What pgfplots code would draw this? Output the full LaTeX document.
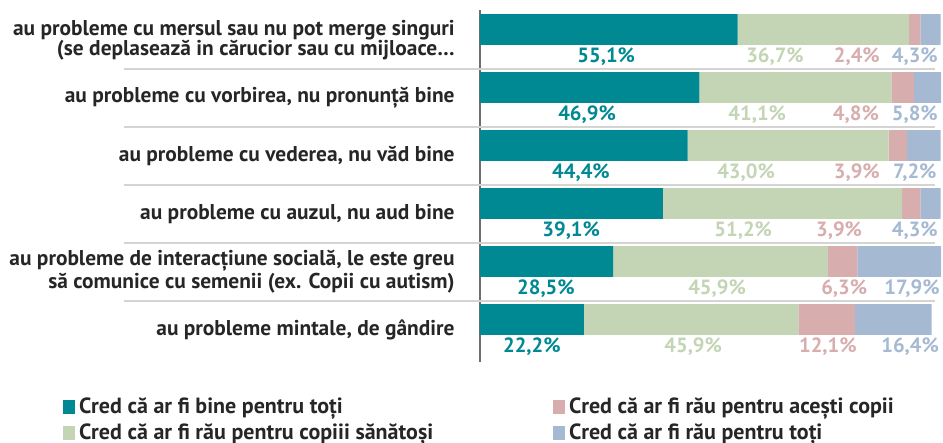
\documentclass[border=0pt]{standalone}
\usepackage{fontspec}
\setmainfont{PT Sans}
\usepackage{pgfplots}
\pgfplotsset{compat=1.18}
\usepackage{pgfplotstable}

\definecolor{cteal}{HTML}{008893}
\definecolor{cgreen}{HTML}{C3D5B4}
\definecolor{cpink}{HTML}{D8ADAE}
\definecolor{cblue}{HTML}{A6B9D3}
\definecolor{labgray}{HTML}{262626}
\definecolor{axisgray}{HTML}{6E6E6E}
\definecolor{sepgray}{HTML}{D4D4D4}

\pgfplotsset{legsq/.style={legend image code/.code={\fill[##1] (0pt,-3.5pt) rectangle (6pt,3.5pt);}}}

% shares per row (0 = top row)
\pgfplotstableread{
y a b c d
0 55.1 36.7 2.4 4.3
1 46.9 41.1 4.8 5.8
2 44.4 43.0 3.9 7.2
3 39.1 51.2 3.9 4.3
4 28.5 45.9 6.3 17.9
5 22.2 45.9 12.1 16.4
}\shares

% where the value labels sit under each bar
\pgfplotstableread{
y xa la xb lb xc lc xd ld
0.474 27.0 55,1 63.1 36,7 80.6 2,4 93.0 4,3
1.474 22.9 46,9 59.3 41,1 80.4 4,8 93.0 5,8
2.474 21.6 44,4 56.9 43,0 80.6 3,9 93.0 7,2
3.474 19.5 39,1 56.3 51,2 76.8 3,9 93.0 4,3
4.474 14.1 28,5 50.7 45,9 77.9 6,3 92.4 17,9
5.474 11.1 22,2 45.6 45,9 74.4 12,1 92.0 16,4
}\labels

\begin{document}
\begin{tikzpicture}
\useasboundingbox (-240pt,-40.5pt) rectangle (231.5pt,181pt);
\begin{axis}[
    xbar stacked,
    scale only axis,
    width=230.5pt, height=176pt,
    xmin=0, xmax=98.6,
    ymin=-0.336, ymax=5.733,
    y dir=reverse,
    bar width=0.534,
    axis x line=none,
    axis y line*=left,
    y axis line style={line width=1.2pt, draw=axisgray},
    xtick=\empty,
    ytick={0.18,1.18,2.18,3.18,4.18,5.18},
    yticklabels={
        {au probleme cu mersul sau nu pot merge singuri\\(se deplasează in cărucior sau cu mijloace…},
        {au probleme cu vorbirea, nu pronunță bine},
        {au probleme cu vederea, nu văd bine},
        {au probleme cu auzul, nu aud bine},
        {au probleme de interacțiune socială, le este greu\\să comunice cu semenii (ex. Copii cu autism)},
        {au probleme mintale, de gândire}},
    major tick length=0pt,
    yticklabel style={align=right, font=\fontsize{10.7}{10}\selectfont\bfseries,
        text=labgray, inner sep=0pt, xshift=-12.5pt},
    legend columns=2,
    transpose legend,
    legend cell align=left,
    legend style={at={(axis description cs:-0.918,-0.084)}, anchor=north west,
        draw=none, fill=none, font=\fontsize{11}{12}\selectfont\bfseries,
        text=labgray, row sep=1.5pt, nodes={inner ysep=1pt},
        /tikz/every even column/.append style={column sep=58pt}},
]
\addplot[fill=cteal, draw=none, legsq] table[x=a, y=y] {\shares};
\addlegendentry{Cred că ar fi bine pentru toți}
\addplot[fill=cgreen, draw=none, legsq] table[x=b, y=y] {\shares};
\addlegendentry{Cred că ar fi rău pentru copiii sănătoși}
\addplot[fill=cpink, draw=none, legsq] table[x=c, y=y] {\shares};
\addlegendentry{Cred că ar fi rău pentru acești copii}
\addplot[fill=cblue, draw=none, legsq] table[x=d, y=y] {\shares};
\addlegendentry{Cred că ar fi rău pentru toți}
\end{axis}

\begin{axis}[
    scale only axis,
    width=230.5pt, height=176pt,
    xmin=0, xmax=98.6,
    ymin=-0.336, ymax=5.733,
    y dir=reverse,
    hide axis, clip=false,
    point meta=explicit symbolic,
    nodes near coords={\pgfplotspointmeta\%},
    every node near coord/.append style={anchor=center,
        font=\fontsize{10.3}{12}\selectfont\bfseries},
]
\draw[sepgray, line width=0.8pt] (axis cs:-76.1,0.68) -- (axis cs:97.3,0.68);
\draw[sepgray, line width=0.8pt] (axis cs:-76.1,1.68) -- (axis cs:97.3,1.68);
\draw[sepgray, line width=0.8pt] (axis cs:-76.1,2.68) -- (axis cs:97.3,2.68);
\draw[sepgray, line width=0.8pt] (axis cs:-76.1,3.68) -- (axis cs:97.3,3.68);
\draw[sepgray, line width=0.8pt] (axis cs:-76.1,4.68) -- (axis cs:97.3,4.68);
\addplot[draw=none, mark=none, nodes near coords style={text=cteal}] table[x=xa, y=y, meta=la] {\labels};
\addplot[draw=none, mark=none, nodes near coords style={text=cgreen}] table[x=xb, y=y, meta=lb] {\labels};
\addplot[draw=none, mark=none, nodes near coords style={text=cpink}] table[x=xc, y=y, meta=lc] {\labels};
\addplot[draw=none, mark=none, nodes near coords style={text=cblue}] table[x=xd, y=y, meta=ld] {\labels};
\end{axis}
\end{tikzpicture}
\end{document}
